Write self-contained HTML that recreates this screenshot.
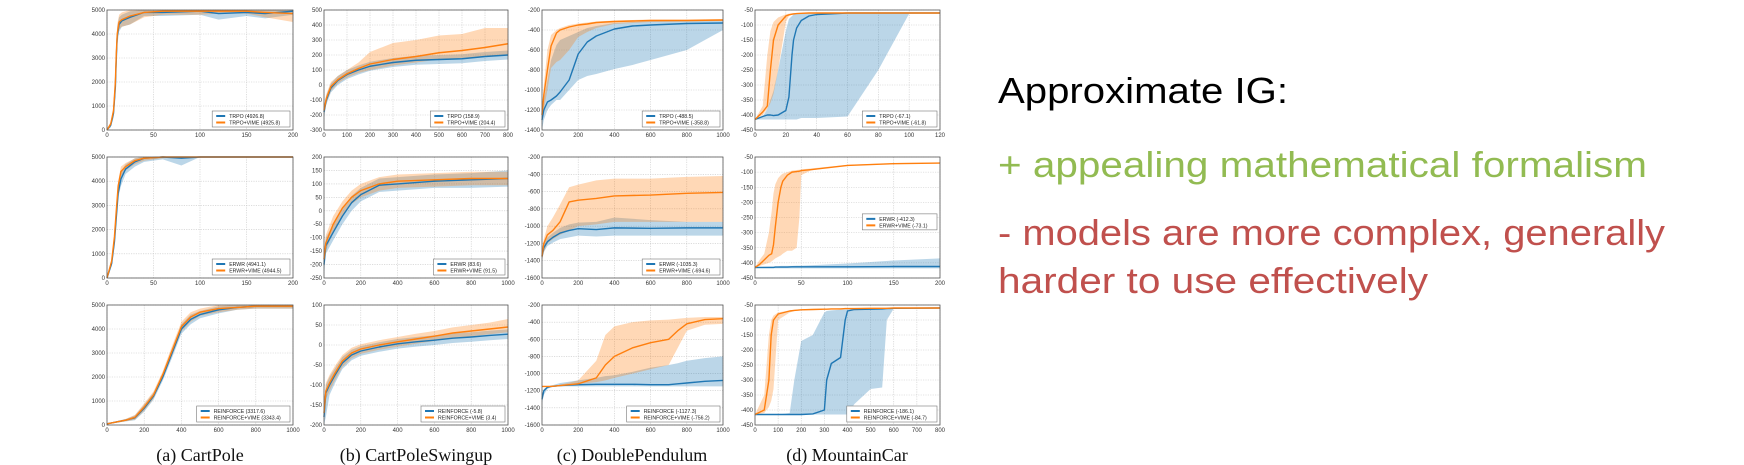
<!DOCTYPE html>
<html><head><meta charset="utf-8">
<style>
html,body{margin:0;padding:0;background:#fff;}
svg{display:block;}
</style></head>
<body>
<svg id="root" width="1744" height="465" viewBox="0 0 1744 465" xmlns="http://www.w3.org/2000/svg">
  <g id="charts"></g>
  <g font-family="'Liberation Serif', serif" font-size="18" fill="#111" text-anchor="middle">
    <text x="200" y="461">(a) CartPole</text>
    <text x="416" y="461">(b) CartPoleSwingup</text>
    <text x="632" y="461">(c) DoublePendulum</text>
    <text x="847" y="461">(d) MountainCar</text>
  </g>
  <g font-family="'Liberation Sans', sans-serif" font-size="36">
    <text x="998" y="103" fill="#000" textLength="290" lengthAdjust="spacingAndGlyphs">Approximate IG:</text>
    <text x="998" y="177" fill="#92bb52" textLength="649" lengthAdjust="spacingAndGlyphs">+ appealing mathematical formalism</text>
    <text x="998" y="245" fill="#c0504d" textLength="667" lengthAdjust="spacingAndGlyphs">- models are more complex, generally</text>
    <text x="998" y="293" fill="#c0504d" textLength="430" lengthAdjust="spacingAndGlyphs">harder to use effectively</text>
  </g>
</svg>
<script>
// ---------- DATA ----------
// Row 1: TRPO
const a1X=[0,4,7,9,10,11,13,16,25,40,60,100,120,150,170,200];
const a1Blue=[0,200,700,1800,3000,3900,4400,4550,4700,4900,4900,4950,4850,4900,4850,4950];
const a1BlueLo=[0,100,500,1400,2500,3500,4100,4300,4400,4750,4750,4800,4600,4750,4650,4800];
const a1BlueHi=[50,300,900,2200,3500,4300,4700,4800,4950,5000,5000,5000,5000,5000,5000,5000];
const a1Orange=[0,250,800,2000,3200,4000,4500,4600,4750,4900,4950,4950,4950,4950,4900,4850];
const a1OrangeLo=[0,150,600,1600,2700,3700,4200,4300,4400,4700,4800,4800,4850,4850,4700,4500];
const a1OrangeHi=[50,350,1000,2400,3700,4400,4800,4900,5000,5000,5000,5000,5000,5000,5000,5000];

const a2X=[0,10,30,60,100,150,200,300,400,500,600,700,800];
const a2Blue=[-180,-100,-20,30,70,100,125,150,165,170,175,190,200];
const a2BlueLo=[-220,-130,-50,0,40,70,95,120,135,140,145,160,170];
const a2BlueHi=[-150,-70,10,60,100,130,155,180,195,200,205,220,230];
const a2Orange=[-170,-90,-10,35,75,110,140,170,190,215,230,250,275];
const a2OrangeLo=[-200,-120,-40,10,50,80,100,130,150,170,180,190,200];
const a2OrangeHi=[-140,-60,20,60,100,150,220,280,300,330,340,380,380];

const a3X=[0,10,30,50,80,100,150,200,250,300,400,500,600,800,1000];
const a3Blue=[-1300,-1200,-1120,-1100,-1060,-1020,-900,-640,-520,-460,-390,-360,-350,-335,-330];
const a3BlueLo=[-1400,-1300,-1200,-1150,-1100,-1100,-1000,-900,-860,-840,-790,-750,-700,-600,-400];
const a3BlueHi=[-1200,-1100,-900,-700,-550,-500,-460,-420,-380,-360,-330,-320,-310,-300,-300];
const a3Orange=[-1250,-1050,-800,-560,-430,-400,-370,-350,-340,-325,-315,-310,-305,-305,-300];
const a3OrangeLo=[-1300,-1200,-1000,-780,-720,-700,-600,-470,-420,-380,-340,-330,-320,-315,-310];
const a3OrangeHi=[-1200,-950,-600,-450,-400,-380,-350,-335,-325,-315,-305,-300,-295,-295,-290];

const a4X=[0,5,8,10,12,15,20,22,24,25,27,30,35,40,60,80,100,120];
const a4Blue=[-415,-405,-400,-400,-402,-400,-385,-340,-200,-150,-110,-85,-70,-65,-60,-60,-60,-60];
const a4BlueLo=[-415,-415,-415,-415,-415,-415,-415,-415,-415,-415,-415,-410,-410,-410,-405,-250,-62,-61];
const a4BlueHi=[-415,-405,-380,-350,-320,-250,-120,-80,-70,-65,-62,-60,-60,-60,-60,-60,-60,-60];
const a4Orange=[-415,-390,-370,-250,-150,-100,-70,-66,-64,-63,-62,-61,-60,-60,-60,-60,-60,-60];
const a4OrangeLo=[-415,-400,-380,-360,-330,-250,-90,-70,-66,-64,-63,-62,-61,-60,-60,-60,-60,-60];
const a4OrangeHi=[-415,-370,-200,-120,-90,-75,-64,-62,-61,-60,-60,-60,-60,-60,-60,-60,-60,-60];

// Row 2: ERWR
const b1X=[0,5,8,10,12,15,20,30,40,60,80,100,150,200];
const b1Blue=[0,600,1500,2500,3500,4100,4500,4800,4950,5000,4950,5000,5000,5000];
const b1BlueLo=[0,500,1300,2300,3300,3800,4300,4600,4800,4900,4650,5000,5000,5000];
const b1BlueHi=[0,700,1700,2700,3800,4400,4700,4950,5000,5000,5000,5000,5000,5000];
const b1Orange=[0,700,1700,2800,3800,4400,4600,4850,4950,5000,5000,5000,5000,5000];
const b1OrangeLo=[0,600,1500,2600,3600,4200,4450,4700,4850,4950,5000,5000,5000,5000];
const b1OrangeHi=[0,800,1900,3000,4000,4600,4750,4950,5000,5000,5000,5000,5000,5000];

const b2X=[0,10,50,100,150,200,300,400,600,800,1000];
const b2Blue=[-200,-130,-80,-20,30,60,95,100,110,115,120];
const b2BlueLo=[-240,-160,-110,-50,0,35,70,75,85,85,90];
const b2BlueHi=[-160,-100,-50,10,55,85,120,125,135,140,150];
const b2Orange=[-180,-120,-50,10,50,75,100,110,115,120,120];
const b2OrangeLo=[-210,-150,-80,-15,25,50,75,85,90,95,95];
const b2OrangeHi=[-150,-90,-20,35,75,100,125,135,140,145,145];

const b3X=[0,10,30,60,100,150,200,300,400,600,800,1000];
const b3Blue=[-1350,-1250,-1180,-1130,-1080,-1050,-1030,-1040,-1020,-1025,-1020,-1020];
const b3BlueLo=[-1400,-1300,-1230,-1190,-1150,-1130,-1110,-1120,-1110,-1110,-1110,-1110];
const b3BlueHi=[-1300,-1200,-1130,-1080,-1020,-980,-960,-950,-900,-930,-950,-950];
const b3Orange=[-1350,-1200,-1100,-1050,-950,-720,-700,-680,-650,-640,-620,-610];
const b3OrangeLo=[-1400,-1300,-1200,-1150,-1100,-1050,-1000,-980,-950,-950,-950,-950];
const b3OrangeHi=[-1300,-1150,-1000,-900,-750,-550,-520,-470,-450,-450,-430,-420];

const b4X=[0,5,10,15,18,20,22,25,28,30,35,40,45,48,50,60,80,100,150,200];
const b4Blue=[-415,-415,-415,-415,-415,-415,-414,-414,-414,-414,-414,-413,-413,-413,-413,-413,-413,-413,-412,-412];
const b4BlueLo=[-418,-418,-418,-418,-418,-418,-418,-418,-418,-418,-418,-418,-418,-418,-418,-418,-418,-418,-418,-418];
const b4BlueHi=[-415,-414,-413,-412,-412,-412,-411,-411,-410,-410,-410,-410,-409,-409,-409,-408,-405,-402,-392,-385];
const b4Orange=[-415,-405,-390,-375,-370,-340,-280,-200,-150,-130,-110,-100,-98,-97,-95,-92,-85,-78,-72,-70];
const b4OrangeLo=[-415,-410,-405,-400,-395,-390,-385,-380,-375,-370,-360,-360,-350,-250,-110,-95,-85,-78,-72,-70];
const b4OrangeHi=[-415,-390,-370,-300,-230,-170,-140,-120,-110,-105,-100,-95,-93,-92,-91,-88,-82,-76,-70,-68];

// Row 3: REINFORCE
const c1X=[0,100,150,200,250,300,350,400,450,500,600,700,800,1000];
const c1Blue=[50,200,300,700,1200,2000,3000,4000,4400,4600,4800,4900,4950,4950];
const c1BlueLo=[30,150,200,550,1050,1850,2800,3800,4200,4450,4650,4800,4850,4850];
const c1BlueHi=[70,250,400,850,1350,2150,3200,4200,4600,4750,4950,5000,5000,5000];
const c1Orange=[50,200,320,750,1250,2100,3100,4100,4500,4700,4850,4900,4950,4950];
const c1OrangeLo=[30,150,220,600,1100,1950,2900,3900,4300,4550,4700,4800,4850,4850];
const c1OrangeHi=[70,250,420,900,1400,2250,3300,4300,4700,4850,5000,5000,5000,5000];

const c2X=[0,10,30,60,100,150,200,300,400,500,600,700,800,900,1000];
const c2Blue=[-180,-120,-100,-75,-45,-25,-15,-5,3,8,12,17,20,24,27];
const c2BlueLo=[-200,-180,-125,-95,-60,-38,-27,-17,-9,-4,0,5,8,12,15];
const c2BlueHi=[-150,-100,-80,-58,-30,-12,-3,7,15,20,24,29,32,36,39];
const c2Orange=[-170,-115,-95,-70,-40,-20,-10,0,8,15,22,30,35,40,45];
const c2OrangeLo=[-190,-135,-115,-88,-55,-33,-22,-12,-4,3,10,17,22,27,32];
const c2OrangeHi=[-150,-95,-75,-52,-25,-7,2,12,20,28,35,44,50,56,65];

const c3X=[0,10,30,50,100,200,300,350,400,500,600,700,750,800,900,1000];
const c3Blue=[-1300,-1200,-1160,-1150,-1140,-1130,-1125,-1125,-1125,-1125,-1130,-1130,-1120,-1110,-1090,-1080];
const c3BlueLo=[-1350,-1250,-1180,-1160,-1150,-1150,-1150,-1150,-1150,-1150,-1150,-1150,-1150,-1150,-1150,-1150];
const c3BlueHi=[-1250,-1180,-1150,-1140,-1110,-1080,-1050,-1030,-1020,-980,-930,-900,-880,-850,-820,-800];
const c3Orange=[-1150,-1150,-1150,-1150,-1140,-1120,-1050,-900,-800,-700,-640,-600,-500,-420,-370,-360];
const c3OrangeLo=[-1150,-1150,-1150,-1150,-1140,-1120,-1100,-1080,-1050,-1000,-950,-900,-700,-500,-430,-420];
const c3OrangeHi=[-1150,-1150,-1150,-1150,-1130,-1080,-850,-550,-450,-400,-380,-370,-360,-350,-340,-340];

const c4X=[0,40,60,70,80,100,150,170,200,250,300,310,330,370,390,400,430,500,550,570,600,800];
const c4Blue=[-415,-415,-415,-415,-415,-415,-415,-415,-415,-413,-400,-300,-245,-225,-100,-70,-65,-64,-63,-62,-61,-60];
const c4BlueLo=[-415,-415,-415,-415,-415,-415,-415,-415,-415,-415,-415,-415,-415,-415,-415,-415,-380,-330,-325,-100,-62,-60];
const c4BlueHi=[-415,-415,-415,-415,-415,-415,-410,-300,-170,-150,-75,-70,-68,-66,-65,-64,-63,-62,-61,-61,-60,-60];
const c4Orange=[-415,-400,-300,-150,-100,-80,-70,-68,-66,-65,-64,-64,-63,-63,-62,-62,-62,-61,-61,-61,-60,-60];
const c4OrangeLo=[-415,-410,-390,-370,-330,-100,-75,-70,-68,-66,-65,-65,-64,-64,-63,-63,-62,-62,-61,-61,-60,-60];
const c4OrangeHi=[-415,-350,-150,-100,-85,-75,-68,-66,-64,-63,-62,-62,-62,-61,-61,-61,-61,-60,-60,-60,-60,-60];

// tick labels
const ticksCartPoleY=[0,1000,2000,3000,4000,5000];
const ticksA1X=[0,50,100,150,200];
const ticksA2Y=[-300,-200,-100,0,100,200,300,400,500];
const ticksA2X=[0,100,200,300,400,500,600,700,800];
const ticksPendA3Y=[-1400,-1200,-1000,-800,-600,-400,-200];
const ticksPendY=[-1600,-1400,-1200,-1000,-800,-600,-400,-200];
const ticks1000X=[0,200,400,600,800,1000];
const ticksMountainY=[-450,-400,-350,-300,-250,-200,-150,-100,-50];
const ticksA4X=[0,20,40,60,80,100,120];
const ticksB4X=[0,50,100,150,200];
const ticksC4X=[0,100,200,300,400,500,600,700,800];
const ticksB2Y=[-250,-200,-150,-100,-50,0,50,100,150,200];
const ticksC2Y=[-200,-150,-100,-50,0,50,100];

// legend labels
const legendA=[["TRPO (4926.8)","TRPO+VIME (4925.8)"],["TRPO (158.9)","TRPO+VIME (204.4)"],["TRPO (-488.5)","TRPO+VIME (-358.8)"],["TRPO (-67.1)","TRPO+VIME (-61.8)"]];
const legendB=[["ERWR (4941.1)","ERWR+VIME (4944.5)"],["ERWR (83.6)","ERWR+VIME (91.5)"],["ERWR (-1035.3)","ERWR+VIME (-694.6)"],["ERWR (-412.3)","ERWR+VIME (-73.1)"]];
const legendC=[["REINFORCE (3317.6)","REINFORCE+VIME (3343.4)"],["REINFORCE (-5.8)","REINFORCE+VIME (3.4)"],["REINFORCE (-1127.3)","REINFORCE+VIME (-756.2)"],["REINFORCE (-186.1)","REINFORCE+VIME (-84.7)"]];

// ---------- LAYOUT ----------
const NS="http://www.w3.org/2000/svg";
const colL=[107,324,542,755], colR=[293,508,723,940];
const rowT=[10,157,305], rowB=[130,278,425];
const BLUE="#1f77b4", ORANGE="#ff7f0e";

function mk(tag,attrs,parent){const e=document.createElementNS(NS,tag);for(const k in attrs)e.setAttribute(k,attrs[k]);parent.appendChild(e);return e;}

function drawChart(name,r,c,xT,yT,X,B,BL,BH,O,OL,OH,leg,legPos){
  const root=document.getElementById('charts');
  const g=mk('g',{},root);
  
  
  const L=colL[c],R=colR[c],T=rowT[r],Bt=rowB[r];
  const x0=xT[0],x1=xT[xT.length-1],y0=yT[0],y1=yT[yT.length-1];
  const sx=v=>L+(v-x0)/(x1-x0)*(R-L);
  const sy=v=>Bt-(v-y0)/(y1-y0)*(Bt-T);
  mk('rect',{x:L,y:T,width:R-L,height:Bt-T,fill:'#fff'},g);
  // grid + ticks
  xT.forEach(v=>{
    const ln=mk('line',{x1:sx(v),x2:sx(v),y1:T,y2:Bt,stroke:'#c8c8c8','stroke-width':0.6,'stroke-dasharray':'1.2,1.2'},g);
    
    
    const t=mk('text',{x:sx(v),y:Bt+7,'font-size':6,'text-anchor':'middle',fill:'#333','font-family':"'Liberation Sans',sans-serif"},g);
    t.textContent=v;
    
    
  });
  yT.forEach(v=>{
    const ln=mk('line',{x1:L,x2:R,y1:sy(v),y2:sy(v),stroke:'#c8c8c8','stroke-width':0.6,'stroke-dasharray':'1.2,1.2'},g);
    
    
    const t=mk('text',{x:L-2,y:sy(v)+2,'font-size':6,'text-anchor':'end',fill:'#333','font-family':"'Liberation Sans',sans-serif"},g);
    t.textContent=v;
    
    
  });
  function band(lo,hi,col,nm){
    let d='M'+X.map((x,i)=>sx(x)+','+sy(hi[i])).join(' L');
    d+=' L'+X.map((x,i)=>sx(x)+','+sy(lo[i])).reverse().join(' L')+' Z';
    const p=mk('path',{d:d,fill:col,'fill-opacity':0.3,stroke:'none'},g);
    
    
  }
  function line(m,col,nm){
    const p=mk('path',{d:'M'+X.map((x,i)=>sx(x)+','+sy(m[i])).join(' L'),fill:'none',stroke:col,'stroke-width':1.4,'stroke-linejoin':'round'},g);
    
    
  }
  band(BL,BH,BLUE,'baseline-band');
  band(OL,OH,ORANGE,'vime-band');
  line(B,BLUE,'baseline-line');
  line(O,ORANGE,'vime-line');
  const fr=mk('rect',{x:L,y:T,width:R-L,height:Bt-T,fill:'none',stroke:'#555','stroke-width':0.8},g);
  
  
  // legend
  const lw=Math.max(leg[0].length,leg[1].length)*3.1+22;
  const lx=R-lw-3, ly=(legPos==='mid')?(T+(Bt-T)*0.47):(Bt-19);
  const lg=mk('g',{},g);
  
  
  mk('rect',{x:lx,y:ly,width:lw,height:16,fill:'#fff',stroke:'#777','stroke-width':0.6},lg);
  [BLUE,ORANGE].forEach((col,i)=>{
    mk('line',{x1:lx+4,x2:lx+13,y1:ly+5+i*6.5,y2:ly+5+i*6.5,stroke:col,'stroke-width':2},lg);
    const t=mk('text',{x:lx+17,y:ly+7+i*6.5,'font-size':5.2,fill:'#222','font-family':"'Liberation Sans',sans-serif"},lg);
    t.textContent=leg[i];
    
    
  });
}

drawChart('cartpole-trpo-chart',0,0,ticksA1X,ticksCartPoleY,a1X,a1Blue,a1BlueLo,a1BlueHi,a1Orange,a1OrangeLo,a1OrangeHi,legendA[0]);
drawChart('swingup-trpo-chart',0,1,ticksA2X,ticksA2Y,a2X,a2Blue,a2BlueLo,a2BlueHi,a2Orange,a2OrangeLo,a2OrangeHi,legendA[1]);
drawChart('pendulum-trpo-chart',0,2,ticks1000X,ticksPendA3Y,a3X,a3Blue,a3BlueLo,a3BlueHi,a3Orange,a3OrangeLo,a3OrangeHi,legendA[2]);
drawChart('mountaincar-trpo-chart',0,3,ticksA4X,ticksMountainY,a4X,a4Blue,a4BlueLo,a4BlueHi,a4Orange,a4OrangeLo,a4OrangeHi,legendA[3]);
drawChart('cartpole-erwr-chart',1,0,ticksA1X,ticksCartPoleY,b1X,b1Blue,b1BlueLo,b1BlueHi,b1Orange,b1OrangeLo,b1OrangeHi,legendB[0]);
drawChart('swingup-erwr-chart',1,1,ticks1000X,ticksB2Y,b2X,b2Blue,b2BlueLo,b2BlueHi,b2Orange,b2OrangeLo,b2OrangeHi,legendB[1]);
drawChart('pendulum-erwr-chart',1,2,ticks1000X,ticksPendY,b3X,b3Blue,b3BlueLo,b3BlueHi,b3Orange,b3OrangeLo,b3OrangeHi,legendB[2]);
drawChart('mountaincar-erwr-chart',1,3,ticksB4X,ticksMountainY,b4X,b4Blue,b4BlueLo,b4BlueHi,b4Orange,b4OrangeLo,b4OrangeHi,legendB[3],'mid');
drawChart('cartpole-reinforce-chart',2,0,ticks1000X,ticksCartPoleY,c1X,c1Blue,c1BlueLo,c1BlueHi,c1Orange,c1OrangeLo,c1OrangeHi,legendC[0]);
drawChart('swingup-reinforce-chart',2,1,ticks1000X,ticksC2Y,c2X,c2Blue,c2BlueLo,c2BlueHi,c2Orange,c2OrangeLo,c2OrangeHi,legendC[1]);
drawChart('pendulum-reinforce-chart',2,2,ticks1000X,ticksPendY,c3X,c3Blue,c3BlueLo,c3BlueHi,c3Orange,c3OrangeLo,c3OrangeHi,legendC[2]);
drawChart('mountaincar-reinforce-chart',2,3,ticksC4X,ticksMountainY,c4X,c4Blue,c4BlueLo,c4BlueHi,c4Orange,c4OrangeLo,c4OrangeHi,legendC[3]);
</script>
</body></html>
